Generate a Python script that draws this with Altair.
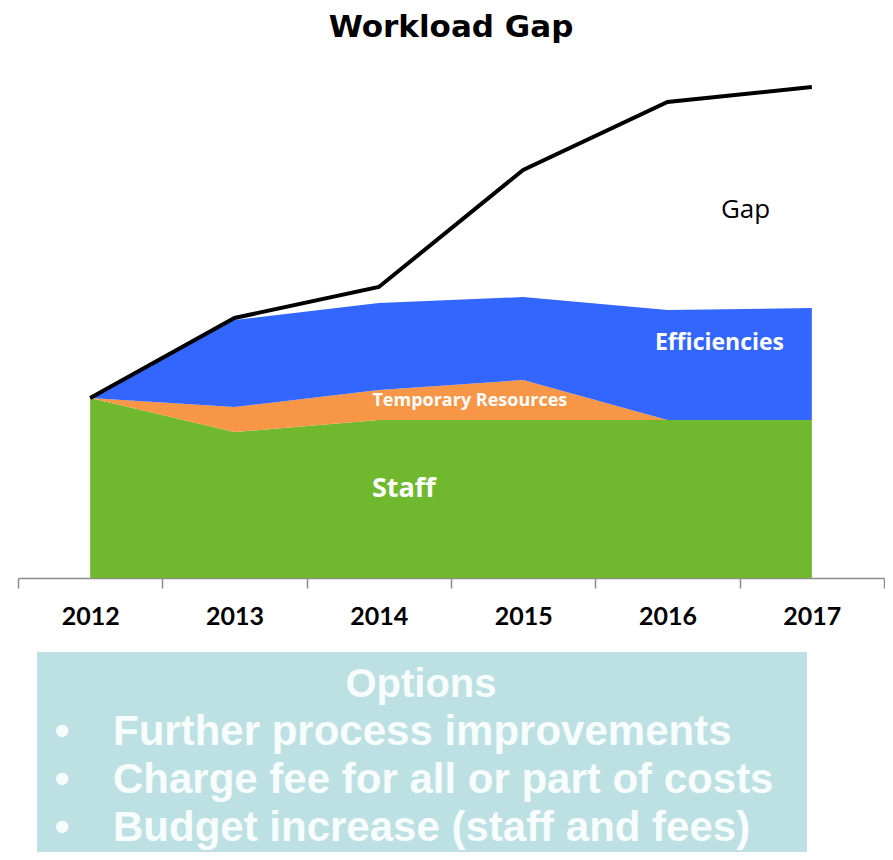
import altair as alt
import pandas as pd

# ---- data (units: arbitrary workload units) ----
years = ["2012", "2013", "2014", "2015", "2016", "2017"]
staff = [90, 73, 79, 79, 79, 79]
temporary = [0, 12.5, 15, 20, 0, 0]
efficiencies = [0, 43.5, 43.5, 41.5, 55, 56]
workload = [90, 130, 145.5, 204, 238, 245.5]

series_names = ["Staff", "Temporary Resources", "Efficiencies"]
series_colors = ["#70b92e", "#f79646", "#3366ff"]

options_title = "Options"
options_lines = [
    "Further process improvements",
    "Charge fee for all or part of costs",
    "Budget increase (staff and fees)",
]

rows = []
for i, y in enumerate(years):
    for k, (name, vals) in enumerate(zip(series_names, [staff, temporary, efficiencies])):
        rows.append({"Year": y, "Series": name, "Value": vals[i], "ord": k})
df = pd.DataFrame(rows)
df_line = pd.DataFrame({"Year": years, "Workload": workload})

xscale = alt.Scale(type="band", paddingInner=0, paddingOuter=0, domain=years)
yscale = alt.Scale(domain=[0, 259], nice=False, zero=True)

X = alt.X("Year:N", scale=xscale, bandPosition=0.5,
          axis=alt.Axis(title=None, labelAngle=0, tickBand="extent"))

area = alt.Chart(df).mark_area(opacity=1).encode(
    x=X,
    y=alt.Y("Value:Q", stack="zero", scale=yscale, axis=None),
    color=alt.Color("Series:N", scale=alt.Scale(domain=series_names, range=series_colors), legend=None),
    order=alt.Order("ord:Q", sort="ascending"),
)

line = alt.Chart(df_line).mark_line(color="black", strokeWidth=4).encode(
    x=X,
    y=alt.Y("Workload:Q", scale=yscale, axis=None),
)


def label(text, year, value, dx, size, weight, color):
    d = pd.DataFrame({"Year": [year], "v": [value], "t": [text]})
    return alt.Chart(d).mark_text(
        font="Open Sans", fontSize=size, fontWeight=weight, color=color,
        dx=dx, align="center", baseline="middle",
    ).encode(x=X, y=alt.Y("v:Q", scale=yscale, axis=None), text="t:N")


lab_gap = label("Gap", "2016", 184, 78, 26, "normal", "black")
lab_eff = label("Efficiencies", "2016", 117.5, 52, 23, "bold", "white")
lab_tmp = label("Temporary Resources", "2014", 88.5, 91, 18, "bold", "white")
lab_staff = label("Staff", "2014", 44.5, 25, 27, "bold", "white")

# ---- options box (decoration below the chart) ----
dummy = pd.DataFrame({"a": [0]})
box = alt.Chart(dummy).mark_rect(color="#bde0e3").encode(
    x=alt.value(19), x2=alt.value(789), y=alt.value(592), y2=alt.value(820)
)

txt_color = "#f7fcfc"
opt_head = alt.Chart(dummy).mark_text(
    text=options_title, font="Liberation Sans", fontWeight="bold", fontSize=40,
    color=txt_color, align="center", baseline="alphabetic",
).encode(x=alt.value(403), y=alt.value(637))

opt_layers = []
for i, t in enumerate(options_lines):
    yb = [685, 733, 781][i]
    opt_layers.append(alt.Chart(dummy).mark_text(
        text="\u2022", font="Liberation Sans", fontWeight="bold", fontSize=42,
        color=txt_color, align="center", baseline="alphabetic",
    ).encode(x=alt.value(44), y=alt.value(yb)))
    opt_layers.append(alt.Chart(dummy).mark_text(
        text=t, font="Liberation Sans", fontWeight="bold", fontSize=42,
        color=txt_color, align="left", baseline="alphabetic",
    ).encode(x=alt.value(95), y=alt.value(yb)))

chart = alt.layer(
    box, area, line, lab_gap, lab_eff, lab_tmp, lab_staff, opt_head, *opt_layers
).properties(
    width=866,
    height=518,
    title=alt.TitleParams("Workload Gap", font="DejaVu Sans", fontSize=31, fontWeight="bold",
                          color="black", anchor="middle", offset=16),
    autosize=alt.AutoSizeParams(type="none"),
    padding={"left": 10, "top": 52, "right": 1, "bottom": 274},
).configure_view(stroke=None).configure_axisX(
    domainColor="#8c8c8c", domainWidth=1.5, tickColor="#8c8c8c", tickWidth=1.5,
    tickSize=10, labelFont="Lato", labelFontWeight="bold", labelFontSize=25,
    labelColor="black", labelPadding=16, grid=False,
)

chart.save("out.html", embed_options={"renderer": "svg", "actions": False})
